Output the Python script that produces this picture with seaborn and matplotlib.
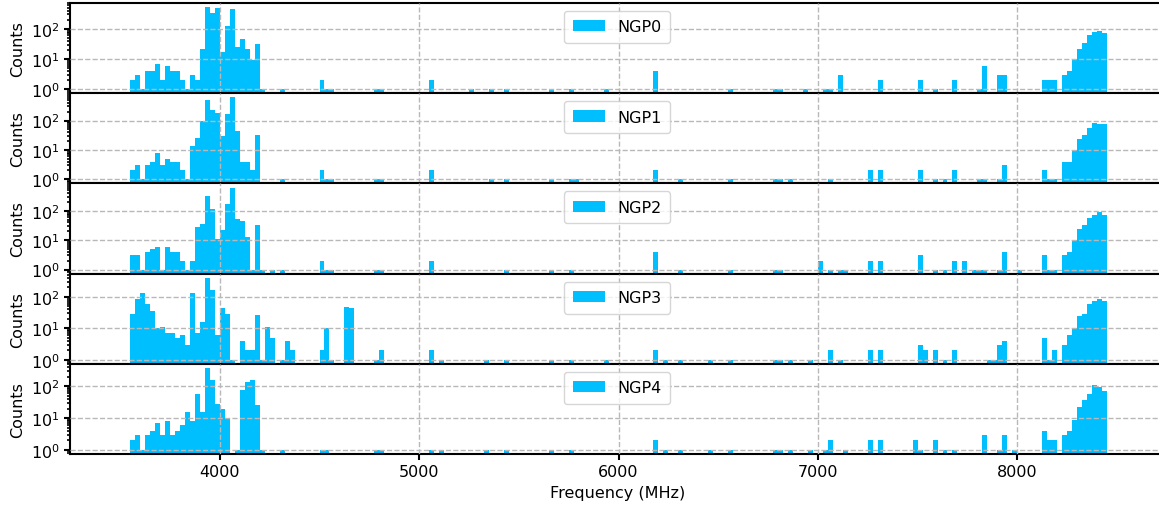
import numpy as np
import pandas as pd
import matplotlib
matplotlib.use("Agg")
import matplotlib.pyplot as plt
import seaborn as sns

# Histogram binning (MHz)
bin_start = 3550
bin_width = 25
n_bins = 196

panel_names = ["NGP0", "NGP1", "NGP2", "NGP3", "NGP4"]

# Non-empty bins (bin index) and their counts, per panel
ngp0_idx = [0, 1, 2, 3, 4, 5, 6, 7, 8, 9, 10, 11, 12, 13, 14, 15, 16, 17, 18, 19, 20, 21, 22, 23, 24, 25, 26,
            30, 38, 39, 40, 49, 50, 60, 68, 72, 75, 84, 88, 95, 105, 120, 129, 130, 135, 139, 140, 142, 150,
            158, 161, 165, 170, 171, 174, 175, 183, 184, 185, 187, 188, 189, 190, 191, 192, 193, 194, 195]
ngp0_cnt = [2, 3, 1, 4, 4, 7, 2, 6, 4, 4, 2, 1, 3, 2, 21, 520, 330, 490, 17, 123, 450, 25, 45, 21, 9, 31, 1,
            1, 2, 1, 1, 1, 1, 2, 1, 1, 1, 1, 1, 1, 4, 1, 1, 1, 1, 1, 1, 3, 2,
            2, 1, 2, 1, 6, 3, 3, 2, 2, 2, 3, 4, 10, 21, 34, 63, 77, 84, 72]

ngp1_idx = [0, 1, 2, 3, 4, 5, 6, 7, 8, 9, 10, 11, 12, 13, 14, 15, 16, 17, 18, 19, 20, 21, 22, 23, 24, 25,
            30, 38, 39, 40, 49, 50, 60, 72, 75, 84, 88, 89, 105, 110, 120, 129, 130, 132, 140, 148, 150,
            158, 161, 163, 165, 170, 171, 174, 175, 183, 184, 185, 187, 188, 189, 190, 191, 192, 193, 194, 195]
ngp1_cnt = [2, 3, 1, 3, 4, 8, 3, 5, 4, 4, 2, 1, 14, 25, 100, 490, 224, 186, 29, 163, 616, 43, 4, 4, 2, 32,
            1, 2, 1, 1, 1, 1, 2, 1, 1, 1, 1, 1, 2, 1, 1, 1, 1, 1, 1, 2, 2,
            2, 1, 1, 2, 1, 1, 1, 3, 2, 1, 1, 4, 4, 10, 23, 32, 56, 81, 76, 76]

ngp2_idx = [0, 1, 2, 3, 4, 5, 6, 7, 8, 9, 10, 11, 12, 13, 14, 15, 16, 17, 18, 19, 20, 21, 22, 23, 24, 25, 26,
            28, 30, 38, 39, 40, 49, 50, 60, 75, 84, 88, 105, 110, 120, 129, 130, 138, 140, 142, 143, 148, 150,
            158, 161, 163, 165, 167, 169, 170, 171, 174, 175, 178, 183, 184, 185,
            187, 188, 189, 190, 191, 192, 193, 194, 195]
ngp2_cnt = [3, 3, 1, 4, 5, 6, 1, 6, 4, 4, 2, 1, 2, 29, 35, 308, 111, 11, 22, 163, 616, 52, 44, 13, 1, 33, 1,
            1, 1, 2, 1, 1, 1, 1, 2, 1, 1, 1, 4, 1, 1, 1, 1, 2, 1, 1, 1, 2, 2,
            3, 1, 1, 2, 2, 1, 1, 1, 1, 4, 1, 3, 1, 1,
            3, 4, 10, 23, 32, 56, 69, 90, 69]

ngp3_idx = [0, 1, 2, 3, 4, 5, 6, 7, 8, 9, 10, 11, 12, 13, 14, 15, 16, 17, 18, 19, 20, 22, 23, 24, 25, 26, 27, 28,
            30, 31, 32, 38, 39, 40, 43, 44, 49, 50, 60, 62, 71, 75, 84, 88, 95, 105, 107, 110, 116, 120,
            129, 130, 132, 136, 140, 142, 148, 150, 158, 159, 161, 163, 165, 172, 173, 174, 175, 183, 184, 185,
            187, 188, 189, 190, 191, 192, 193, 194, 195]
ngp3_cnt = [28, 85, 130, 58, 35, 10, 11, 7, 7, 5, 6, 3, 130, 7, 16, 400, 163, 6, 44, 28, 1, 4, 2, 2, 26, 1, 11, 5,
            1, 4, 2, 2, 10, 1, 48, 45, 1, 2, 2, 1, 1, 1, 1, 1, 1, 2, 1, 1, 1, 1,
            1, 1, 1, 1, 2, 1, 2, 2, 3, 2, 2, 1, 2, 1, 1, 3, 4, 5, 1, 2,
            3, 6, 10, 24, 28, 58, 73, 85, 73]

ngp4_idx = [0, 1, 2, 3, 4, 5, 6, 7, 8, 9, 10, 11, 12, 13, 14, 15, 16, 17, 18, 19, 21, 22, 23, 24, 25, 26,
            30, 38, 39, 49, 50, 60, 62, 71, 75, 84, 88, 105, 107, 110, 116, 120, 129, 130, 132, 136, 139, 140,
            143, 148, 150, 157, 158, 161, 163, 165, 171, 174, 175, 177, 183, 184, 185,
            187, 188, 189, 190, 191, 192, 193, 194, 195]
ngp4_cnt = [2, 3, 1, 3, 4, 7, 3, 8, 3, 4, 6, 16, 8, 57, 16, 380, 163, 28, 19, 10, 1, 78, 134, 158, 26, 1,
            1, 1, 1, 1, 1, 1, 1, 1, 1, 1, 1, 2, 1, 1, 1, 1, 1, 1, 1, 1, 1, 2,
            1, 2, 2, 2, 1, 2, 1, 1, 3, 1, 3, 1, 4, 2, 2,
            3, 4, 9, 22, 37, 57, 110, 95, 71]

panel_idx = [ngp0_idx, ngp1_idx, ngp2_idx, ngp3_idx, ngp4_idx]
panel_cnt = [ngp0_cnt, ngp1_cnt, ngp2_cnt, ngp3_cnt, ngp4_cnt]

bar_color = "#00BFFF"
fs = 11.5

W, H = 1159, 510
fig = plt.figure(figsize=(W / 100, H / 100), dpi=100)
gs = fig.add_gridspec(5, 1, left=70.3 / W, right=1164 / W,
                      top=1 - 4 / H, bottom=1 - 455 / H, hspace=0)
axes = gs.subplots(sharex=True)

bin_range = (bin_start, bin_start + bin_width * n_bins)

for ax, name, idx, cnt in zip(axes, panel_names, panel_idx, panel_cnt):
    df = pd.DataFrame({
        "freq": bin_start + bin_width * (np.asarray(idx) + 0.5),
        "count": np.asarray(cnt, dtype=float),
    })
    sns.histplot(data=df, x="freq", weights="count", binwidth=bin_width,
                 binrange=bin_range, ax=ax,
                 color=bar_color, alpha=1, linewidth=0, label=name)
    ax.set_yscale("log")
    ax.set_ylabel("Counts", fontsize=fs)
    ax.set_xlabel("")
    ax.grid(True, which="major", ls="--", color="#b8b8b8", lw=1.0)
    ax.set_axisbelow(False)
    ax.legend(loc="upper center", fontsize=fs, borderpad=0.53)
    for sp in ax.spines.values():
        sp.set_linewidth(1.5)
    ax.tick_params(axis="both", which="major", width=1.5, length=4, labelsize=fs)
    ax.tick_params(axis="both", which="minor", width=1.2, length=2.5)

axes[-1].set_xlim(3250, 8736)
axes[-1].set_xlabel("Frequency (MHz)", fontsize=fs)

fig.savefig("out.png", dpi=100)
